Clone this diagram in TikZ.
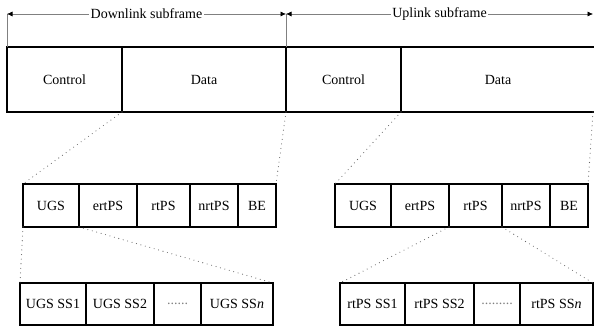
\documentclass[tikz,border=0pt]{standalone}
\usepackage{fontspec}
\setmainfont{Liberation Serif}
\usetikzlibrary{arrows.meta}

\begin{document}
\begin{tikzpicture}[x=1pt,y=1pt,font=\fontsize{14}{16}\selectfont]
\tikzstyle{block} = [rectangle, draw, line width=1.5pt, inner sep=0pt, outer sep=0pt]
\tikzstyle{frame} = [block, minimum height=65pt]
\tikzstyle{cell} = [block, minimum height=43pt]
\tikzstyle{line} = [draw, gray, line width=0.6pt]
\tikzstyle{span} = [line, {Latex[length=5.5pt,width=5pt,color=black]}-{Latex[length=5.5pt,width=5pt,color=black]}]
\tikzstyle{dots} = [draw, black!60, line width=1.1pt, line cap=round, dash pattern=on 0pt off 4.6pt]
\tikzstyle{gap} = [fill=white, text=black, inner sep=1.5pt]

\useasboundingbox (0,0) rectangle (594,-331);

% subframes
\node [frame, minimum width=115pt] (dlc) at (64.5,-79.5) {Control};
\node [frame, minimum width=164pt, right of=dlc, node distance=139.5pt] (dld) {Data};
\node [frame, minimum width=115pt, right of=dld, node distance=139.5pt] (ulc) {Control};
\node [frame, minimum width=194pt, right of=ulc, node distance=154.5pt] (uld) {Data};
%
\coordinate (dl0) at ([yshift=33pt]dlc.north west);
\coordinate (dl1) at ([yshift=33pt]dld.north east);
\coordinate (ul1) at (593,-14);
\path [line] (dl0) -- (dlc.north west);
\path [line] (dl1) -- (dld.north east);
\path [span] (dl0) -- node [gap] (dltxt) {Downlink subframe} (dl1);
\path [span] (dl1) -- node [gap] (ultxt) {Uplink subframe} (ul1);

% service classes, downlink
\node [cell, minimum width=56pt] (lugs) at (51,-205.5) {UGS};
\node [cell, minimum width=58pt, right of=lugs, node distance=57pt] (lert) {ertPS};
\node [cell, minimum width=53pt, right of=lert, node distance=55.5pt] (lrt) {rtPS};
\node [cell, minimum width=48pt, right of=lrt, node distance=50.5pt] (lnrt) {nrtPS};
\node [cell, minimum width=38pt, right of=lnrt, node distance=43pt] (lbe) {BE};
%
% service classes, uplink
\node [cell, minimum width=56pt] (rugs) at (363,-205.5) {UGS};
\node [cell, minimum width=58pt, right of=rugs, node distance=57pt] (rert) {ertPS};
\node [cell, minimum width=53pt, right of=rert, node distance=55.5pt] (rrt) {rtPS};
\node [cell, minimum width=48pt, right of=rrt, node distance=50.5pt] (rnrt) {nrtPS};
\node [cell, minimum width=38pt, right of=rnrt, node distance=43pt] (rbe) {BE};

% per-SS slots
\node [cell, minimum width=66pt, minimum height=42pt] (lss1) at (53,-304) {UGS SS1};
\node [cell, minimum width=68pt, minimum height=42pt, right of=lss1, node distance=67pt] (lss2) {UGS SS2};
\node [cell, minimum width=47pt, minimum height=42pt, right of=lss2, node distance=57.5pt, text=gray] (ldots) {......};
\node [cell, minimum width=72pt, minimum height=42pt, right of=ldots, node distance=59.5pt] (lssn) {UGS SS\textit{n}};
%
\node [cell, minimum width=65pt, minimum height=42pt] (rss1) at (372.5,-304) {rtPS SS1};
\node [cell, minimum width=69pt, minimum height=42pt, right of=rss1, node distance=67pt] (rss2) {rtPS SS2};
\node [cell, minimum width=46pt, minimum height=42pt, right of=rss2, node distance=57.5pt, text=gray] (rdots) {.........};
\node [cell, minimum width=73pt, minimum height=42pt, right of=rdots, node distance=59.5pt] (rssn) {rtPS SS\textit{n}};

% zoom lines
\path [dots] (dld.south west) -- (lugs.north west);
\path [dots] (dld.south east) -- (lbe.north east);
\path [dots] (uld.south west) -- (rugs.north west);
\path [dots] ([xshift=-2pt]uld.south east) -- (rbe.north east);
\path [dots] (lugs.south west) -- (lss1.north west);
\path [dots] (lugs.south east) -- (lssn.north east);
\path [dots] (rrt.south west) -- (rss1.north west);
\path [dots] (rrt.south east) -- (rssn.north east);

\end{tikzpicture}
\end{document}
